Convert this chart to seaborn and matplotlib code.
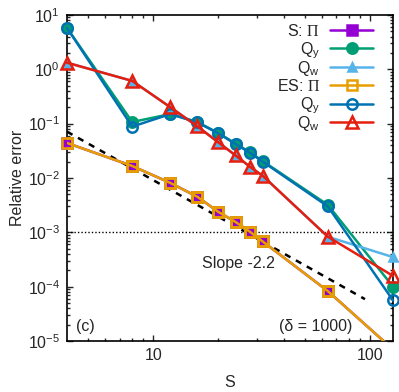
import numpy as np
import pandas as pd
import matplotlib
matplotlib.use("Agg")
import matplotlib.pyplot as plt
import matplotlib.ticker as mticker
import seaborn as sns

# data (delta = 1000)
S = [4, 8, 12, 16, 20, 24, 28, 32, 64, 128]
s_pi = [0.044, 0.0166, 0.0081, 0.0045, 0.00237, 0.00155, 0.00102, 0.00068, 8.3e-5, 7.0e-6]
s_qy = [5.75, 0.107, 0.15, 0.107, 0.067, 0.043, 0.0296, 0.0205, 0.0032, 1.0e-4]
s_qw = [1.32, 0.61, 0.2, 0.089, 0.045, 0.026, 0.016, 0.011, 8.3e-4, 3.5e-4]
es_pi = [0.044, 0.0166, 0.0081, 0.0045, 0.00237, 0.00155, 0.00102, 0.00068, 8.3e-5, 7.0e-6]
es_qy = [5.75, 0.088, 0.15, 0.105, 0.066, 0.042, 0.029, 0.020, 0.0030, 5.6e-5]
es_qw = [1.32, 0.61, 0.2, 0.089, 0.045, 0.026, 0.016, 0.011, 8.3e-4, 1.58e-4]
slope_S = [4, 95]
slope_err = [0.071, 5.9e-5]
y_ticks = [1e-5, 1e-4, 1e-3, 1e-2, 1e-1, 1e0, 1e1]

sns.set_theme(style="ticks")
plt.rcParams['font.family'] = ['Liberation Sans', 'DejaVu Sans']
plt.rcParams['mathtext.fontset'] = 'custom'
plt.rcParams['mathtext.rm'] = 'Liberation Sans'
plt.rcParams['mathtext.it'] = 'Liberation Sans'
plt.rcParams['mathtext.sf'] = 'Liberation Serif'
fs = 11.5

fig = plt.figure(figsize=(3.99, 3.92), dpi=100)
ax = fig.add_axes([0.168, 0.130, 0.817, 0.832])

series = [
    (s_pi, r'S: $\mathsf{\Pi}$', '#9400d3', 's', '#9400d3', 6.5),
    (s_qy, r'$\mathrm{Q_y}$', '#009e73', 'o', '#009e73', 7.5),
    (s_qw, r'$\mathrm{Q_w}$', '#56b4e9', '^', '#56b4e9', 6),
    (es_pi, r'ES: $\mathsf{\Pi}$', '#e69f00', 's', 'none', 7),
    (es_qy, r'$\mathrm{Q_y}$', '#0072b2', 'o', 'none', 7.5),
    (es_qw, r'$\mathrm{Q_w}$', '#e51e10', '^', 'none', 8),
]

for vals, lab, col, mk, fc, ms in series:
    df = pd.DataFrame({'S': S, 'err': vals})
    clip = vals is s_pi or vals is es_pi
    sns.lineplot(data=df, x='S', y='err', ax=ax, color=col, lw=1.8,
                 marker=mk, markersize=ms, markerfacecolor=fc,
                 markeredgecolor=col, markeredgewidth=1.8,
                 label=lab, clip_on=clip, zorder=3)
    if clip:
        # keep markers whole at the edge while the line stays clipped
        ax.plot(S[:-1], vals[:-1], ls='none', marker=mk, markersize=ms,
                markerfacecolor=fc, markeredgecolor=col, markeredgewidth=1.8,
                clip_on=False, zorder=3)

ax.plot(slope_S, slope_err, color='black', ls=(0, (2.5, 2.5)), lw=1.8, zorder=2)
ax.axhline(1e-3, color='black', ls=(0, (1, 1.5)), lw=1.0, zorder=1)

ax.set_xscale('log')
ax.set_yscale('log')
ax.set_xlim(4, 128)
ax.set_ylim(1e-5, 10)

ax.xaxis.set_major_locator(mticker.FixedLocator([10, 100]))
ax.xaxis.set_major_formatter(mticker.FormatStrFormatter('%d'))
ax.xaxis.set_minor_locator(mticker.FixedLocator([5, 6, 7, 8, 9, 20, 30, 40, 50, 60, 70, 80, 90]))
ax.yaxis.set_major_locator(mticker.FixedLocator(y_ticks))
ax.yaxis.set_major_formatter(mticker.LogFormatterSciNotation())
ax.yaxis.set_minor_locator(mticker.FixedLocator(
    [m * t for t in y_ticks[:-1] for m in range(2, 10)]))

ax.tick_params(which='both', direction='in', top=True, right=True, width=1.0, labelsize=fs)
ax.tick_params(which='major', length=4.5, pad=5)
ax.tick_params(which='minor', length=2.5, labelbottom=False, labelleft=False)
for sp in ax.spines.values():
    sp.set_linewidth(1.2)
    sp.set_color('black')

ax.set_xlabel('S', fontsize=fs, labelpad=9)
ax.set_ylabel('Relative error', fontsize=fs, labelpad=2)

ax.text(0.414, 0.239, 'Slope -2.2', transform=ax.transAxes, ha='left', va='center', fontsize=fs)
ax.text(0.028, 0.046, '(c)', transform=ax.transAxes, ha='left', va='center', fontsize=fs)
ax.text(0.874, 0.046, '(δ = 1000)', transform=ax.transAxes, ha='right', va='center', fontsize=fs)

# legend: uniform rows, labels placed to the left of each sample line
handles, labels = ax.get_legend_handles_labels()
leg = ax.legend(handles, [' '] * len(handles), loc='upper right',
                bbox_to_anchor=(0.939, 0.973), frameon=False, markerfirst=False,
                handlelength=2.7, labelspacing=0.21, handletextpad=0.0,
                borderaxespad=0, borderpad=0, fontsize=fs)
fig.canvas.draw()
cap = 0.72 * fs * fig.dpi / 72
for line, lab in zip(leg.get_lines(), labels):
    xd, yd = line.get_xydata()[0]
    x0, yc = line.get_transform().transform((xd, yd))
    fx, fy = fig.transFigure.inverted().transform((x0 - 10, yc - cap / 2))
    fig.text(fx, fy, lab, ha='right', va='baseline', fontsize=fs)

fig.savefig('out.png', dpi=100)
